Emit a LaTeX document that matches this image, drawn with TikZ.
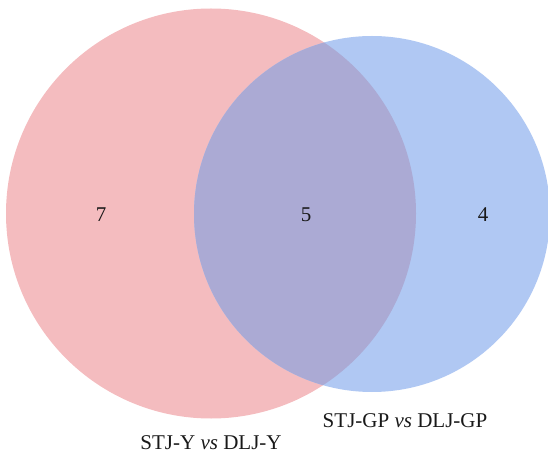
\documentclass[tikz,border=0pt]{standalone}
\usepackage{fontspec}
\setmainfont{Liberation Serif}
\definecolor{setApink}{RGB}{244,188,191}
\definecolor{setBblue}{RGB}{176,200,243}
\definecolor{overlapviolet}{RGB}{171,170,212}
\tikzset{
  count/.style={font=\fontsize{21bp}{25bp}\selectfont, text=black!90, anchor=base, inner sep=0pt},
  setlabel/.style={font=\fontsize{21bp}{25bp}\selectfont, text=black!90, anchor=base, inner sep=0pt}
}
\begin{document}
\begin{tikzpicture}[x=1bp,y=-1bp]
  \useasboundingbox (0,0) rectangle (548,456);
  \clip (0,0) rectangle (548,456);
  \coordinate (cA) at (211,213.5);
  \coordinate (cB) at (372,214);
  % the two sets
  \fill[setApink] (cA) circle[radius=205];
  \fill[setBblue] (cB) circle[radius=178];
  % their intersection
  \begin{scope}
    \clip (cA) circle[radius=205];
    \fill[overlapviolet] (cB) circle[radius=178];
  \end{scope}
  % region counts
  \node[count] (onlyA) at (101,222) {7};
  \node[count] (both) at (306,222) {5};
  \node[count] (onlyB) at (483,222) {4};
  % set names
  \node[setlabel] (nameA) at (211,449) {STJ-Y \textit{vs} DLJ-Y};
  \node[setlabel] (nameB) at (405,427) {STJ-GP \textit{vs} DLJ-GP};
\end{tikzpicture}
\end{document}
